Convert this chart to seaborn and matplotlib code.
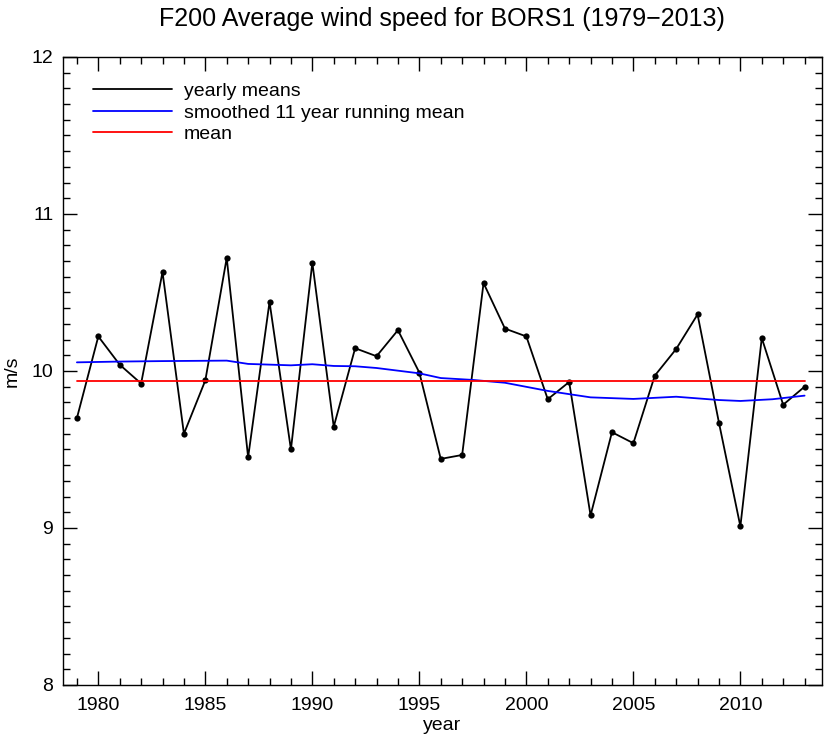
import numpy as np
import pandas as pd
import matplotlib
matplotlib.use('Agg')
import matplotlib.pyplot as plt
import seaborn as sns
from matplotlib.ticker import MultipleLocator

# yearly means
years = list(range(1979, 2014))
speeds = [9.70, 10.22, 10.04, 9.92, 10.63, 9.60, 9.94, 10.72, 9.45, 10.44,
          9.50, 10.69, 9.645, 10.145, 10.094, 10.26, 9.99, 9.44, 9.465, 10.56,
          10.27, 10.22, 9.82, 9.93, 9.08, 9.61, 9.54, 9.97, 10.14, 10.36,
          9.67, 9.01, 10.21, 9.785, 9.90]

# smoothed 11 year running mean (read at sample years)
smooth_years = [1979, 1981, 1983, 1986, 1987, 1989, 1990, 1991, 1992, 1993, 1995,
                1996, 1997.5, 1999, 2001, 2003, 2005, 2007, 2009, 2010, 2011.5, 2013]
smooth_vals = [10.055, 10.06, 10.063, 10.066, 10.045, 10.036, 10.043, 10.032, 10.030,
               10.019, 9.985, 9.955, 9.943, 9.925, 9.873, 9.832, 9.822, 9.836,
               9.815, 9.809, 9.82, 9.843]

mean_val = 9.936

df = pd.DataFrame({'year': years, 'speed': speeds})
sm = pd.DataFrame({'year': smooth_years, 'speed': smooth_vals})
mn = pd.DataFrame({'year': [years[0], years[-1]], 'speed': [mean_val, mean_val]})

sns.set_style('ticks')
plt.rcParams['font.family'] = ['Liberation Sans', 'DejaVu Sans']
plt.rcParams['text.color'] = 'black'
plt.rcParams['axes.labelcolor'] = 'black'
plt.rcParams['xtick.color'] = 'black'
plt.rcParams['ytick.color'] = 'black'

fig = plt.figure(figsize=(8.3, 7.41), dpi=100)
ax = fig.add_axes([0.0759, 0.0756, 0.9141, 0.8475])

sns.lineplot(data=df, x='year', y='speed', ax=ax, color='black', lw=1.3,
             marker='o', markersize=4.5, markeredgewidth=0, legend=False)
sns.lineplot(data=sm, x='year', y='speed', ax=ax, color='blue', lw=1.3, legend=False)
sns.lineplot(data=mn, x='year', y='speed', ax=ax, color='red', lw=1.3, legend=False)

ax.set_xlim(1978.35, 2013.8)
ax.set_ylim(8, 12)
ax.xaxis.set_major_locator(MultipleLocator(5))
ax.xaxis.set_minor_locator(MultipleLocator(1))
ax.yaxis.set_major_locator(MultipleLocator(1))
ax.yaxis.set_minor_locator(MultipleLocator(0.1))
ax.tick_params(which='both', direction='in', top=True, right=True, labelsize=14,
               width=1, color='black')
ax.tick_params(which='major', length=10)
ax.tick_params(which='minor', length=5)
ax.tick_params(axis='y', pad=7)
ax.tick_params(axis='x', pad=9)
for s in ax.spines.values():
    s.set_linewidth(1)
    s.set_color('black')

ax.set_xlabel('year', fontsize=14, labelpad=2)
ax.set_ylabel('m/s', fontsize=14)
ax.yaxis.set_label_coords(-0.056, 0.5)
ax.set_title('F200 Average wind speed for BORS1 (1979\u22122013)', fontsize=18, pad=22)

handles = [plt.Line2D([], [], color=c, lw=1.3) for c in ['black', 'blue', 'red']]
ax.legend(handles, ['yearly means', 'smoothed 11 year running mean', 'mean'],
          loc='upper left', bbox_to_anchor=(0.016, 0.987), frameon=False, fontsize=14,
          handlelength=4.1, handletextpad=0.6, labelspacing=0.2, borderaxespad=0.5)

fig.savefig('out.png', dpi=100)
